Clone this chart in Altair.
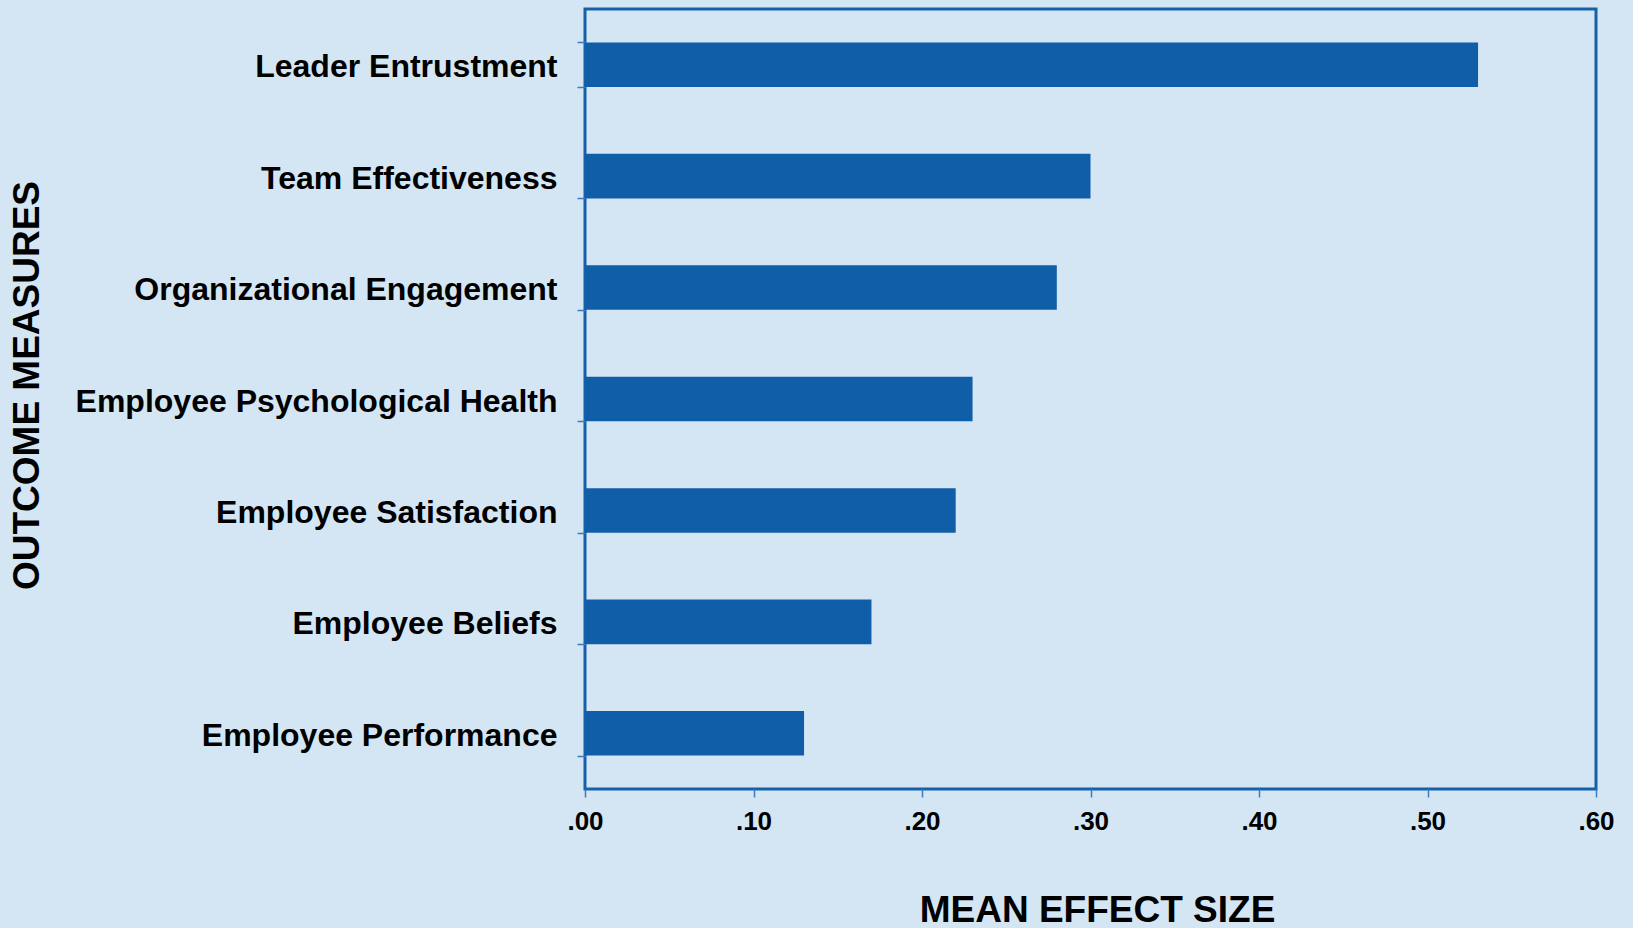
import altair as alt
import pandas as pd

categories = [
    "Leader Entrustment",
    "Team Effectiveness",
    "Organizational Engagement",
    "Employee Psychological Health",
    "Employee Satisfaction",
    "Employee Beliefs",
    "Employee Performance",
]
values = [0.53, 0.30, 0.28, 0.23, 0.22, 0.17, 0.13]
x_ticks = [0.0, 0.1, 0.2, 0.3, 0.4, 0.5, 0.6]

df = pd.DataFrame({"measure": categories, "effect": values})

BG = "#D4E6F4"
BAR = "#105DA8"
FONT = "Liberation Sans"

chart = alt.Chart(df).mark_bar(color=BAR).encode(
    x=alt.X(
        "effect:Q",
        scale=alt.Scale(domain=[0, 0.6], nice=False, zero=True),
        axis=alt.Axis(
            values=x_ticks,
            format=".2f",
            labelExpr="replace(datum.label, '0.', '.')",
            title="MEAN EFFECT SIZE",
            titleFontSize=37,
            titleFont=FONT,
            titleFontWeight="bold",
            titleColor="black",
            titleX=512,
            titleY=121,
            titleBaseline="middle",
            titleAlign="center",
            labelFont=FONT,
            labelFontSize=26,
            labelFontWeight="bold",
            labelColor="black",
            labelPadding=11,
            tickSize=8,
            tickColor="#3C7BBF",
            tickWidth=1.5,
            domain=False,
            grid=False,
            labelFlush=False,
        ),
    ),
    y=alt.Y(
        "measure:N",
        sort=categories,
        scale=alt.Scale(paddingInner=0.6, paddingOuter=0.3),
        axis=alt.Axis(
            title="OUTCOME MEASURES",
            titleFontSize=37,
            titleFont=FONT,
            titleFontWeight="bold",
            titleColor="black",
            titleAngle=270,
            titleX=-558,
            titleY=376,
            titleBaseline="middle",
            titleAlign="center",
            labelFont=FONT,
            labelFontSize=32,
            labelFontWeight="bold",
            labelColor="black",
            labelPadding=20,
            labelOffset=2,
            labelLimit=600,
            tickSize=8,
            tickColor="#3C7BBF",
            tickWidth=1.5,
            tickBand="extent",
            domain=False,
            grid=False,
        ),
    ),
).properties(
    width=1011,
    height=780,
    background=BG,
    padding={"left": 585, "top": 9, "right": 37, "bottom": 139},
    autosize=alt.AutoSizeParams(type="none"),
).configure_view(
    stroke="#1560A8",
    strokeWidth=3,
    fill=BG,
)

chart.save("out.html", embed_options={"renderer": "svg", "actions": False})
